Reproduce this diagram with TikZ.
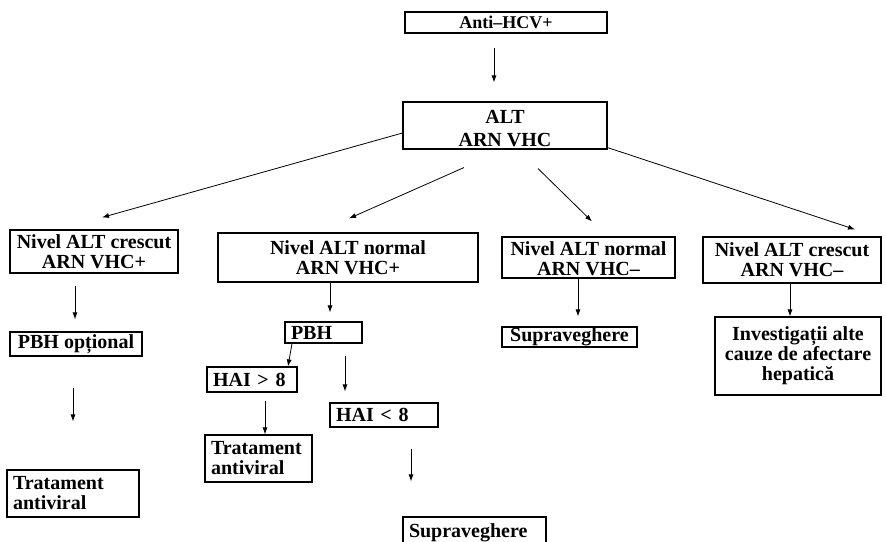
\documentclass[tikz,border=0pt]{standalone}
\usepackage{fontspec}
\setmainfont{Liberation Serif}
\usetikzlibrary{calc,arrows.meta}
\begin{document}
\begin{tikzpicture}[x=1pt,y=-1pt,
  box/.style={draw, line width=1.1pt, inner xsep=0pt, inner ysep=0pt,
    font=\bfseries\fontsize{20}{20}\selectfont, align=center},
  lbox/.style={box, align=left, inner xsep=6pt},
  arr/.style={line width=0.8pt, -{Latex[length=7pt,width=5pt]}}]
\useasboundingbox (0,0) rectangle (886,541);
\fill[white] (0,0) rectangle (886,541);

\node[box, minimum width=202, minimum height=21, font=\bfseries\fontsize{18}{18}\selectfont] (anti) at (506,22.5) {Anti–HCV+};
\node[box, minimum width=204, minimum height=47] (alt) at (505,125.5) {\rule{0pt}{20pt}ALT\\[3pt]ARN VHC};

\node[box, minimum width=168, minimum height=43] (b1) at (94,251.5) {Nivel ALT crescut\\ARN VHC+};
\node[box, minimum width=260, minimum height=49] (b2) at (348,257.5) {Nivel ALT normal\\ARN VHC+};
\node[box, minimum width=173, minimum height=41] (b3) at (588.5,257.5) {\rule{0pt}{16pt}Nivel ALT normal\\ARN VHC–};
\node[box, minimum width=178, minimum height=46] (b4) at (792,260) {Nivel ALT crescut\\ARN VHC–};

\node[box, minimum width=132, minimum height=24] (pbhopt) at (76,344) {PBH opțional};
\node[lbox, text width=65pt, minimum height=21] (pbh) at (323.5,332.5) {PBH};
\node[box, minimum width=135, minimum height=20] (sup3) at (569.5,337) {Supraveghere};
\node[box, minimum width=166, minimum height=78] (inv) at (798,356) {Investigații alte\\cauze de afectare\\hepatică};

\node[lbox, text width=78pt, minimum height=25] (haig) at (252,379.5) {HAI > 8};
\node[lbox, text width=96pt, minimum height=24] (hail) at (384,415) {HAI < 8};
\node[lbox, text width=95pt, minimum height=47] (trat2) at (258.5,458.5) {Tratament\\antiviral};
\node[lbox, text width=120pt, minimum height=47] (trat1) at (73,493.5) {Tratament\\antiviral};
\node[lbox, text width=131pt, minimum height=28, inner xsep=6pt] (supb) at (474.5,531) {\rule{0pt}{18pt}Supraveghere};

\draw[arr] ($(anti.south)+(-12,14)$) -- ($(alt.north)+(-11,-19)$);
\draw[arr] ($(alt.west)+(0,7.5)$) -- ($(b1.north)+(8,-12)$);
\draw[arr] ($(alt.south)+(-41,18)$) -- ($(b2.north)+(1,-14)$);
\draw[arr] ($(alt.south)+(33,19)$) -- ($(b3.north)+(3.5,-15)$);
\draw[arr] ($(alt.south east)+(0,-2)$) -- ($(b4.north)+(63,-7)$);

\draw[arr] ($(b1.south)+(-19,12)$) -- ($(pbhopt.north)+(-1,-12)$);
\draw[arr] ($(pbhopt.south)+(-3,31)$) -- ($(trat1.north)+(0,-48)$);

\draw[arr] ($(b2.south)+(-18,0)$) -- ($(pbh.north)+(6.5,-9)$);
\draw[arr] ($(pbh.south)+(-31.5,0)$) -- ($(haig.north)+(36,0)$);
\draw[arr] ($(pbh.south)+(21.5,12)$) -- ($(hail.north)+(-39,-11)$);
\draw[arr] ($(haig.south)+(13,8)$) -- ($(trat2.north)+(6.5,0)$);
\draw[arr] ($(hail.south)+(27,21)$) -- ($(supb.north)+(-63.5,-35)$);

\draw[arr] ($(b3.south)+(-10.5,0)$) -- ($(sup3.north)+(8.5,-10)$);
\draw[arr] ($(b4.south)+(-2,0)$) -- ($(inv.north)+(-8,0)$);
\end{tikzpicture}
\end{document}
